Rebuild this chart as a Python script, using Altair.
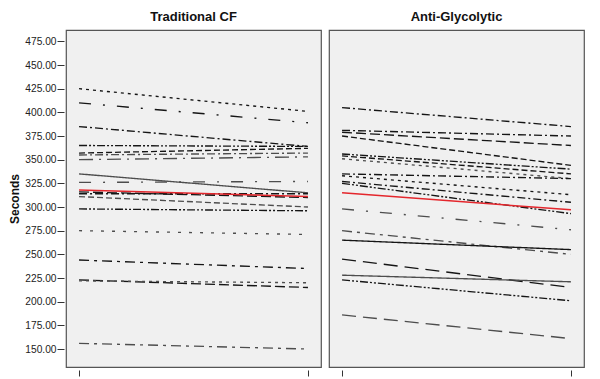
import altair as alt
import pandas as pd

panels = ["Traditional CF", "Anti-Glycolytic"]
times = ["Pre", "Post"]

# Traditional CF panel: start value, end value, line style, colour group
cf_start = [425, 410, 385, 365, 357, 355, 350, 335, 326, 318, 316, 314, 311, 298, 275, 244, 223, 222, 156]
cf_end   = [401, 389, 364, 364, 362, 357, 353, 315, 327, 311, 310, 314, 300, 296, 271, 235, 215, 220, 150]
cf_style = ["shortdash", "sparsedashdot", "dashdot", "dashdotdot", "dash", "dashdot", "widedashdot",
            "solid", "sparsedashdot", "solid", "longdash", "dashdot", "dash", "dashdotdot",
            "sparseshort", "dashdot2", "longdash", "shortdash", "dashdot2"]
cf_color = ["k", "k", "k", "k", "k", "g", "g", "g", "g", "r", "k", "k", "g", "k", "g", "k", "k", "g", "g"]

# Anti-Glycolytic panel
ag_start = [405, 381, 379, 375, 356, 354, 351, 335, 333, 327, 325, 315, 298, 275, 265, 245, 228, 223, 186]
ag_end   = [385, 375, 365, 344, 340, 335, 330, 330, 313, 305, 293, 297, 276, 250, 255, 215, 221, 201, 161]
ag_style = ["dashdot", "dashdot", "longdash", "dash", "dashdotdot", "dash", "shortdash", "dashdot",
            "shortdash", "dashdot", "dashdotdot", "solid", "sparsedashdot", "dashdot2", "solid",
            "longdash2", "solid", "dashdotdot", "longdash2"]
ag_color = ["k", "k", "k", "k", "k", "k", "g", "k", "k", "k", "k", "r", "g", "g", "k", "k", "g", "k", "g"]

style_names = ["solid", "dash", "shortdash", "sparseshort", "longdash", "longdash2", "dashdot",
               "dashdot2", "sparsedashdot", "widedashdot", "dashdotdot"]
style_dashes = [[1, 0], [6, 3], [3, 4], [3, 8], [10, 4], [14, 7], [8, 3, 2, 3],
                [10, 5, 3, 5], [12, 12, 2, 12], [14, 6, 2, 6], [8, 2, 2, 2, 2, 2]]

rows = []
for panel, starts, ends, styles, cols in [
    (panels[0], cf_start, cf_end, cf_style, cf_color),
    (panels[1], ag_start, ag_end, ag_style, ag_color),
]:
    for i in range(len(starts)):
        for t, v in zip(times, [starts[i], ends[i]]):
            rows.append({"panel": panel, "id": f"{panel}-{i}", "time": t, "seconds": v,
                         "style": styles[i], "col": cols[i]})
df = pd.DataFrame(rows)

x = alt.X("time:N", sort=times, scale=alt.Scale(padding=0.057),
          axis=alt.Axis(labels=False, title=None, domain=False, ticks=True, tickSize=6,
                        tickColor="#333", offset=2))
y = alt.Y("seconds:Q", scale=alt.Scale(domain=[131, 487], nice=False, zero=False),
          axis=alt.Axis(values=list(range(150, 476, 25)), format=".2f", title="Seconds",
                        grid=False, domain=False, tickSize=7, tickColor="#333",
                        labelFontSize=10.2, labelColor="#222", labelPadding=1,
                        titleFontSize=12, titleFontWeight="bold", titlePadding=3,
                        titleColor="#111", offset=1))

base = alt.Chart().encode(x=x, y=y, detail="id:N")

lines = base.transform_filter(alt.datum.col != "r").mark_line(strokeWidth=1.35).encode(
    strokeDash=alt.StrokeDash("style:N", scale=alt.Scale(domain=style_names, range=style_dashes), legend=None),
    color=alt.Color("col:N", scale=alt.Scale(domain=["k", "g", "r"], range=["#151515", "#4d4d4d", "#e4262c"]), legend=None),
)
red = base.transform_filter(alt.datum.col == "r").mark_line(strokeWidth=1.5, color="#e4262c")

chart = alt.layer(lines, red, data=df).properties(width=255, height=337).facet(
    column=alt.Column("panel:N", sort=panels,
                      header=alt.Header(title=None, labelFontSize=13, labelFontWeight="bold",
                                        labelColor="#111", labelPadding=5, labelFont="Liberation Sans"))
).properties(padding={"left": 0, "top": 3, "right": 0, "bottom": 0}).configure_facet(spacing=6).configure_view(
    stroke="#555", strokeWidth=1.2, fill="#f0f0f0"
).configure_axis(labelFont="Liberation Sans", titleFont="Liberation Sans")

chart.save("out.html", embed_options={"renderer": "svg", "actions": False})
